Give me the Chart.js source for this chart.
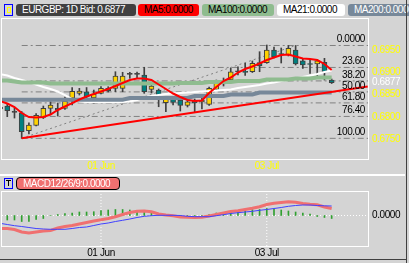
<!DOCTYPE html>
<html>
<head>
<meta charset="utf-8">
<script src="https://cdn.jsdelivr.net/npm/chart.js@4.4.0/dist/chart.umd.min.js"></script>
<style>
  body { margin: 0; width: 409px; height: 263px; overflow: hidden; position: relative; background: #d4d4d4;
         font-family: 'Liberation Sans', Arial, sans-serif; font-size: 10px; }
  canvas { position: absolute; left: 0; }
  .tag { position: absolute; height: 12px; line-height: 12px; border-radius: 3px; padding-left: 6px; box-sizing: border-box;
         white-space: nowrap; overflow: hidden; letter-spacing: -0.5px; }
  .linea { position: absolute; z-index: 3; }
</style>
</head>
<body>

<!-- cabecera del grafico principal -->
<div class="linea" style="left:4px;top:4px;width:7px;height:10px;border:1px solid #0000ff;"></div>
<div class="linea" style="left:7px;top:7px;width:2px;height:4px;border:1px solid #ffff00;"></div>
<div class="tag" style="left:16px;top:4px;width:120px;background:#404040;color:#fff;">EURGBP: 1D Bid: 0.6877</div>
<div class="tag" style="left:138px;top:4px;width:61px;background:#ff0000;color:#000;">MA5:0.0000</div>
<div class="tag" style="left:202px;top:4px;width:72px;background:#8fbc8f;color:#000;">MA100:0.0000</div>
<div class="tag" style="left:277px;top:4px;width:68px;background:#ffffff;color:#000;">MA21:0.0000</div>
<div class="tag" style="left:348px;top:4px;width:70px;background:#778899;color:#fff;">MA200:0.0000</div>

<canvas id="grafico" width="409" height="175" style="top:0px"></canvas>
<canvas id="macd" width="409" height="88" style="top:175px"></canvas>

<div class="linea" style="left:0;top:174px;width:405px;height:2px;background:#fff;"></div>
<div class="linea" style="left:406px;top:0;width:1px;height:263px;background:#404040;"></div>
<div class="linea" style="left:0;top:259px;width:407px;height:1px;background:#404040;"></div>

<!-- cabecera MACD -->
<div class="linea" style="left:4px;top:178px;width:7px;height:9px;border:1px solid #0000ff;"></div>
<div class="linea" style="left:6px;top:180px;width:5px;height:1px;background:#000;"></div>
<div class="linea" style="left:8px;top:180px;width:1px;height:6px;background:#000;"></div>
<div class="tag" style="left:16px;top:177px;width:104px;height:13px;background:#f07070;color:#fff;border:1px solid #000;border-radius:4px;line-height:11px;">MACD12/26/9:0.0000</div>

<script>
// ---------------- datos ----------------
const aperturas = [0.68224, 0.68246, 0.68105, 0.68096, 0.67693, 0.67810, 0.67993, 0.68195, 0.68195, 0.68195,
  0.68419, 0.68530, 0.68566, 0.68425, 0.68530, 0.68642, 0.68642, 0.68642, 0.68956, 0.68956,
  0.68940, 0.68620, 0.68604, 0.68320, 0.68403, 0.68381, 0.68262, 0.68358, 0.68336, 0.68284,
  0.68620, 0.68739, 0.68828, 0.69014, 0.69014, 0.69014, 0.69216, 0.69216, 0.69500, 0.69422,
  0.69388, 0.69500, 0.69260, 0.69187, 0.69187, 0.69225, 0.68828];
const maximos = [0.68269, 0.68291, 0.68201, 0.68123, 0.67872, 0.68078, 0.68246, 0.68342, 0.68313, 0.68448,
  0.68656, 0.68642, 0.68660, 0.68604, 0.68683, 0.68678, 0.69014, 0.69001, 0.69001, 0.69007,
  0.69113, 0.68739, 0.68627, 0.68425, 0.68454, 0.68403, 0.68419, 0.68403, 0.68425, 0.68672,
  0.68828, 0.68873, 0.69090, 0.69126, 0.69202, 0.69254, 0.69462, 0.69612, 0.69567, 0.69545,
  0.69601, 0.69601, 0.69298, 0.69276, 0.69287, 0.69314, 0.68851];
const minimos = [0.68134, 0.68007, 0.67977, 0.67523, 0.67619, 0.67798, 0.67966, 0.68067, 0.68022, 0.68168,
  0.68269, 0.68492, 0.68425, 0.68313, 0.68515, 0.68560, 0.68566, 0.68566, 0.68866, 0.68873,
  0.68530, 0.68537, 0.68230, 0.68119, 0.68269, 0.68134, 0.68224, 0.68101, 0.68179, 0.68257,
  0.68604, 0.68694, 0.68806, 0.68940, 0.68929, 0.68996, 0.69014, 0.69202, 0.69321, 0.69209,
  0.69366, 0.69164, 0.69090, 0.68978, 0.68902, 0.68828, 0.68750];
const cierres = [0.68179, 0.68141, 0.68105, 0.67671, 0.67821, 0.68038, 0.68195, 0.68269, 0.68157, 0.68358,
  0.68575, 0.68582, 0.68448, 0.68515, 0.68642, 0.68582, 0.68918, 0.68918, 0.68956, 0.68956,
  0.68566, 0.68694, 0.68492, 0.68396, 0.68329, 0.68262, 0.68342, 0.68313, 0.68381, 0.68642,
  0.68754, 0.68806, 0.69014, 0.69014, 0.69000, 0.69202, 0.69142, 0.69500, 0.69343, 0.69399,
  0.69538, 0.69187, 0.69164, 0.69175, 0.69260, 0.69007, 0.68770];

const ma5 = [0.68358, 0.68302, 0.68224, 0.68089, 0.68000, 0.67989, 0.68000, 0.68056, 0.68157, 0.68235,
  0.68313, 0.68392, 0.68459, 0.68515, 0.68571, 0.68627, 0.68694, 0.68761, 0.68828, 0.68862,
  0.68862, 0.68828, 0.68728, 0.68627, 0.68526, 0.68448, 0.68381, 0.68358, 0.68369, 0.68537,
  0.68672, 0.68806, 0.68884, 0.68996, 0.69075, 0.69131, 0.69198, 0.69276, 0.69332, 0.69388,
  0.69399, 0.69354, 0.69310, 0.69299, 0.69276, 0.69187, 0.69052];
const ma21 = [0.68963, 0.68929, 0.68873, 0.68828, 0.68784, 0.68728, 0.68672, 0.68627, 0.68571, 0.68492,
  0.68403, 0.68347, 0.68336, 0.68336, 0.68336, 0.68336, 0.68336, 0.68336, 0.68347, 0.68381,
  0.68436, 0.68470, 0.68492, 0.68515, 0.68526, 0.68537, 0.68548, 0.68560, 0.68571, 0.68582,
  0.68593, 0.68604, 0.68616, 0.68649, 0.68672, 0.68694, 0.68716, 0.68750, 0.68772, 0.68806,
  0.68828, 0.68862, 0.68896, 0.68929, 0.68963, 0.69007, 0.69041];
const ma100 = [0.68817, 0.68817, 0.68795, 0.68772, 0.68772, 0.68772, 0.68772, 0.68750, 0.68750, 0.68750,
  0.68750, 0.68750, 0.68750, 0.68750, 0.68750, 0.68750, 0.68750, 0.68750, 0.68750, 0.68750,
  0.68750, 0.68750, 0.68750, 0.68750, 0.68750, 0.68761, 0.68761, 0.68761, 0.68761, 0.68784,
  0.68784, 0.68784, 0.68784, 0.68806, 0.68806, 0.68806, 0.68806, 0.68840, 0.68840, 0.68840,
  0.68840, 0.68862, 0.68862, 0.68862, 0.68884, 0.68884, 0.68884];
const ma200 = [0.68387, 0.68387, 0.68387, 0.68387, 0.68387, 0.68387, 0.68387, 0.68387, 0.68387, 0.68387,
  0.68387, 0.68387, 0.68387, 0.68387, 0.68387, 0.68387, 0.68387, 0.68387, 0.68425, 0.68425,
  0.68425, 0.68425, 0.68425, 0.68425, 0.68425, 0.68425, 0.68425, 0.68470, 0.68470, 0.68470,
  0.68470, 0.68470, 0.68504, 0.68504, 0.68504, 0.68504, 0.68548, 0.68548, 0.68548, 0.68548,
  0.68548, 0.68548, 0.68548, 0.68548, 0.68548, 0.68548, 0.68548];

// linea de tendencia (vela, precio)
const tendenciaVela = [3, 51];
const tendenciaPrecio = [0.67523, 0.68683];

// retroceso de fibonacci
const fiboTextos = ["0.0000", "23.60", "38.20", "50.00", "61.80", "76.40", "100.00"];
const fiboNiveles = [0.69601, 0.69110, 0.68808, 0.68562, 0.68316, 0.68013, 0.67523];
const fiboVelas = [3, 41]; // desde el minimo hasta el maximo

const etiquetasPrecio = [0.6950, 0.6900, 0.6877, 0.6850, 0.6800, 0.6750];
const precioActual = 0.6877;
const fechas = ["01 Jun", "03 Jul"];
const posFechas = [14, 37];

// MACD 12/26/9
const macdLinea = [-0.00130, -0.00130, -0.00140, -0.00165, -0.00175, -0.00165, -0.00155, -0.00150, -0.00125, -0.00110,
  -0.00100, -0.00085, -0.00070, -0.00055, -0.00042, -0.00030, -0.00012, 0.00010, 0.00030, 0.00042,
  0.00045, 0.00038, 0.00015, 0.00005, -0.00002, -0.00015, -0.00018, -0.00020, -0.00018, -0.00005,
  0.00010, 0.00025, 0.00040, 0.00048, 0.00060, 0.00072, 0.00088, 0.00110, 0.00122, 0.00130,
  0.00138, 0.00132, 0.00120, 0.00112, 0.00108, 0.00085, 0.00070];
const macdSenal = [-0.00078, -0.00090, -0.00102, -0.00110, -0.00120, -0.00130, -0.00135, -0.00138, -0.00138, -0.00138,
  -0.00130, -0.00120, -0.00115, -0.00100, -0.00085, -0.00075, -0.00060, -0.00048, -0.00035, -0.00020,
  -0.00008, -0.00002, 0.00002, 0.00002, 0.00002, 0.00000, -0.00008, -0.00012, -0.00012, -0.00012,
  -0.00002, 0.00008, 0.00020, 0.00028, 0.00035, 0.00042, 0.00052, 0.00060, 0.00070, 0.00080,
  0.00092, 0.00100, 0.00105, 0.00105, 0.00100, 0.00097, 0.00095];
const macdHisto = [-0.00040, -0.00045, -0.00045, -0.00060, -0.00060, -0.00040, -0.00030, 0.00000, 0.00010, 0.00020,
  0.00025, 0.00035, 0.00035, 0.00038, 0.00050, 0.00055, 0.00060, 0.00060, 0.00055, 0.00050,
  0.00035, 0.00030, 0.00015, 0.00005, -0.00005, -0.00020, -0.00010, -0.00010, -0.00005, 0.00010,
  0.00025, 0.00030, 0.00040, 0.00045, 0.00055, 0.00060, 0.00060, 0.00070, 0.00065, 0.00055,
  0.00045, 0.00035, 0.00025, 0.00015, -0.00010, -0.00020, -0.00030];

// rangos de los ejes
const ejeXMin = 0.268, ejeXMax = 51.04;
const precioMin = 0.67060, precioMax = 0.70194;
const macdMin = -0.00305, macdMax = 0.00235;

const FUENTE = "'Liberation Sans', Arial, sans-serif";
Chart.defaults.font.family = FUENTE;
Chart.defaults.font.size = 10;

//******************************************************************************************************

function serie(valores) {
  return valores.map((v, i) => ({ x: i, y: v }));
}

function colorCuerpo(c) {
  const i = c.dataIndex;
  if (cierres[i] > aperturas[i]) return "#ffd200";
  if (cierres[i] < aperturas[i]) return "#008080";
  return "#404040";
}

function linea(datos, color, ancho, orden, guion) {
  return {
    type: "line", data: datos, borderColor: color, borderWidth: ancho, borderDash: guion || [],
    pointRadius: 0, tension: 0, order: orden, clip: 0,
  };
}

// letra un poco mas apretada, como la del grafico original
const apretar = {
  id: "apretar",
  beforeDraw(chart) {
    if ("letterSpacing" in chart.ctx) chart.ctx.letterSpacing = "-0.4px";
  },
};

// marco blanco alrededor del area de dibujo
const marco = {
  id: "marco",
  afterDraw(chart) {
    const a = chart.chartArea, c = chart.ctx;
    c.save();
    c.strokeStyle = "#ffffff";
    c.lineWidth = 1;
    c.strokeRect(a.left - 0.5, a.top - 0.5, a.right - a.left + 1, a.bottom - a.top + 1);
    c.restore();
  },
};

// textos de los niveles de fibonacci
const textosFibo = {
  id: "textosFibo",
  afterDatasetsDraw(chart) {
    const a = chart.chartArea, c = chart.ctx;
    c.save();
    c.font = "10px " + FUENTE;
    c.fillStyle = "#000000";
    c.textAlign = "right";
    c.textBaseline = "alphabetic";
    fiboTextos.forEach((t, i) => {
      const y = chart.scales.y.getPixelForValue(fiboNiveles[i]);
      c.fillText(t, a.right - 3, y - 3);
    });
    c.restore();
  },
};

function ejeX(color, alto) {
  return {
    type: "linear", min: ejeXMin, max: ejeXMax, offset: false, bounds: "data",
    grid: { display: false, drawTicks: false, offset: false }, border: { display: false },
    afterBuildTicks: (eje) => { eje.ticks = posFechas.map((v) => ({ value: v })); },
    afterFit: (eje) => { eje.height = alto; },
    ticks: { autoSkip: false, maxRotation: 0, padding: 1, color: color, callback: (v, i) => fechas[i] },
  };
}

function cargarGraficoPrecio() {
  const ctx = document.getElementById("grafico").getContext("2d");

  const mechas = aperturas.map((v, i) => ({ x: i, y: [minimos[i], maximos[i]] }));
  const cuerpos = aperturas.map((v, i) => ({ x: i, y: [aperturas[i], cierres[i]] }));

  const datasets = [];
  fiboNiveles.forEach((n) => {
    datasets.push(linea([{ x: fiboVelas[0], y: n }, { x: ejeXMax, y: n }], "#808080", 1, 30, [6, 3, 2, 3]));
  });
  datasets.push(linea([{ x: fiboVelas[0], y: fiboNiveles[6] }, { x: fiboVelas[1], y: fiboNiveles[0] }], "#808080", 1, 29, [2, 3]));

  datasets.push({ type: "bar", data: mechas, backgroundColor: "#404040", barThickness: 1, grouped: false, order: 20 });
  datasets.push({
    type: "bar", data: cuerpos, backgroundColor: colorCuerpo, borderColor: "#404040", borderWidth: 1,
    borderSkipped: false, barThickness: 5, minBarLength: 1, grouped: false, order: 19,
  });

  datasets.push(linea(serie(ma21), "#ffffff", 2, 6));
  datasets.push(linea(serie(ma100), "#8fbc8f", 4, 5));
  datasets.push(linea(serie(ma200), "#778899", 4, 4));
  datasets.push(linea(serie(ma5), "#ff0000", 2, 3));
  datasets.push(linea(tendenciaVela.map((v, i) => ({ x: v, y: tendenciaPrecio[i] })), "#ff0000", 2, 2));

  const config = {
    type: "line",
    data: { datasets: datasets },
    options: {
      responsive: false, animation: false, devicePixelRatio: 1, events: [],
      layout: { padding: { left: 2, top: 19, right: 0, bottom: 0 } },
      plugins: { legend: { display: false }, tooltip: { enabled: false } },
      scales: {
        x: ejeX("#ffff00", 16),
        y: {
          position: "right", min: precioMin, max: precioMax,
          grid: { display: false, drawTicks: false }, border: { display: false },
          afterBuildTicks: (eje) => { eje.ticks = etiquetasPrecio.map((v) => ({ value: v })); },
          afterFit: (eje) => { eje.width = 41; },
          ticks: {
            autoSkip: false, padding: 4,
            color: (c) => (c.tick && c.tick.value === precioActual ? "#ffffff" : "#ffff00"),
            callback: (v) => v.toFixed(4),
          },
        },
      },
    },
    plugins: [apretar, marco, textosFibo],
  };

  new Chart(ctx, config);
}

function cargarGraficoMacd() {
  const ctx = document.getElementById("macd").getContext("2d");

  const datasets = [];
  datasets.push(linea([{ x: ejeXMin, y: 0 }, { x: ejeXMax, y: 0 }], "#ffffff", 1, 10, [1, 2]));
  posFechas.forEach((p) => {
    datasets.push(linea([{ x: p, y: macdMin }, { x: p, y: macdMax }], "#ffffff", 1, 10, [1, 2]));
  });
  datasets.push({ type: "bar", data: serie(macdHisto), backgroundColor: "#30a030", barThickness: 1, grouped: false, order: 9 });
  datasets.push(linea(serie(macdLinea), "#f07070", 3, 2));
  datasets.push(linea(serie(macdSenal), "#4040ff", 1, 1));

  const config = {
    type: "line",
    data: { datasets: datasets },
    options: {
      responsive: false, animation: false, devicePixelRatio: 1, events: [],
      layout: { padding: { left: 2, top: 17, right: 0, bottom: 0 } },
      plugins: { legend: { display: false }, tooltip: { enabled: false } },
      scales: {
        x: ejeX("#000000", 17),
        y: {
          position: "right", min: macdMin, max: macdMax,
          grid: { display: false, drawTicks: false }, border: { display: false },
          afterBuildTicks: (eje) => { eje.ticks = [{ value: 0 }]; },
          afterFit: (eje) => { eje.width = 41; },
          ticks: { autoSkip: false, padding: 4, color: "#000000", callback: (v) => v.toFixed(4) },
        },
      },
    },
    plugins: [apretar, marco],
  };

  new Chart(ctx, config);
}

cargarGraficoPrecio();
cargarGraficoMacd();
</script>
</body>
</html>
